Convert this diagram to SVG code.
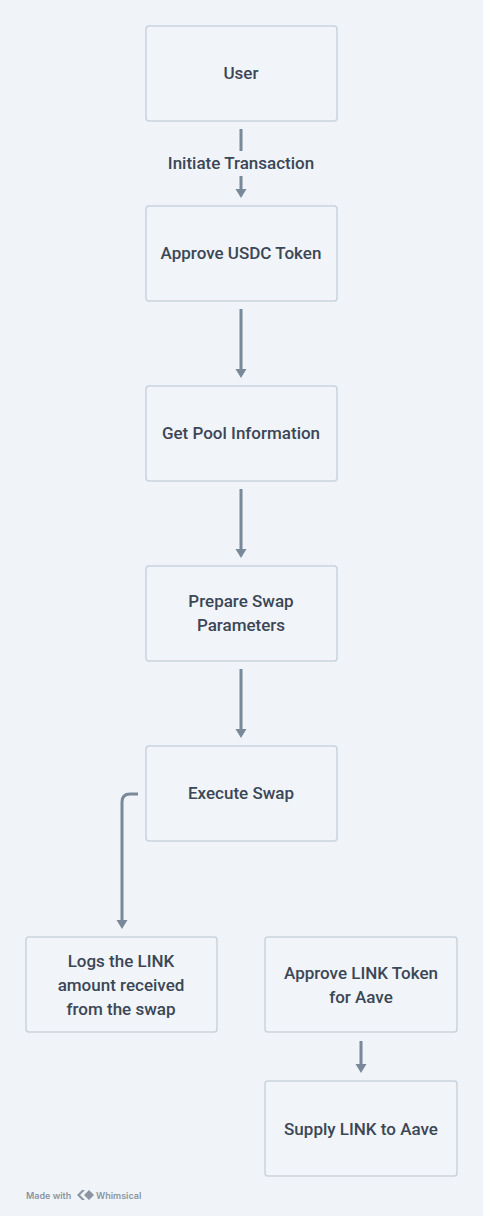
<svg xmlns="http://www.w3.org/2000/svg" width="483" height="1216" viewBox="0 0 483 1216">
<style>
.n rect{fill:#f1f4f8;stroke:#c9d3dd;stroke-width:1.5}
.t{font-family:Roboto,"Noto Sans",sans-serif;font-size:17px;font-weight:500;fill:#3b4756;text-anchor:middle}
.c{fill:none;stroke:#798999;stroke-width:3;stroke-linecap:butt}
</style>
<defs>
<marker id="ah" viewBox="0 0 9 11" refX="0" refY="5.5" markerWidth="3" markerHeight="3.67" markerUnits="strokeWidth" orient="auto">
<path d="M0,0 L9,5.5 L0,11 z" fill="#798999"/>
</marker>
</defs>
<rect width="483" height="1216" fill="#f0f4f8"/>
<g id="connectors">
<line class="c" x1="241" y1="129" x2="241" y2="151"/>
<line class="c" x1="241" y1="176" x2="241" y2="189" marker-end="url(#ah)"/>
<line class="c" x1="241" y1="309" x2="241" y2="369" marker-end="url(#ah)"/>
<line class="c" x1="241" y1="489" x2="241" y2="549" marker-end="url(#ah)"/>
<line class="c" x1="241" y1="669" x2="241" y2="729" marker-end="url(#ah)"/>
<path class="c" d="M138,794 L130,794 Q122,794 122,802 L122,920" marker-end="url(#ah)"/>
<line class="c" x1="361" y1="1041" x2="361" y2="1064" marker-end="url(#ah)"/>
<text class="t" x="241" y="169">Initiate Transaction</text>
</g>
<g id="user" class="n"><rect x="146" y="26" width="191" height="95" rx="3"/><text class="t" x="241" y="79">User</text></g>
<g id="approve-usdc" class="n"><rect x="146" y="206" width="191" height="95" rx="3"/><text class="t" x="241" y="259">Approve USDC Token</text></g>
<g id="get-pool" class="n"><rect x="146" y="386" width="191" height="95" rx="3"/><text class="t" x="241" y="439">Get Pool Information</text></g>
<g id="prepare-swap" class="n"><rect x="146" y="566" width="191" height="95" rx="3"/><text class="t" x="241" y="607">Prepare Swap</text><text class="t" x="241" y="631">Parameters</text></g>
<g id="execute-swap" class="n"><rect x="146" y="746" width="191" height="95" rx="3"/><text class="t" x="241" y="799">Execute Swap</text></g>
<g id="logs" class="n"><rect x="26" y="937" width="191" height="95" rx="3"/><text class="t" x="121" y="967">Logs the LINK</text><text class="t" x="121" y="991">amount received</text><text class="t" x="121" y="1015">from the swap</text></g>
<g id="approve-link" class="n"><rect x="265" y="937" width="192" height="95" rx="3"/><text class="t" x="361" y="979">Approve LINK Token</text><text class="t" x="361" y="1003">for Aave</text></g>
<g id="supply-link" class="n"><rect x="265" y="1081" width="192" height="95" rx="3"/><text class="t" x="361" y="1135">Supply LINK to Aave</text></g>
<g id="footer">
<text x="26" y="1199" font-family="Inter,'Liberation Sans',sans-serif" font-size="9" font-weight="600" fill="#8a95a1">Made with</text>
<path d="M77,1195 L82,1190 L85,1190 L80,1195 L85,1200 L82,1200 z M84,1195 L89,1190 L94,1195 L89,1200 z" fill="#8a95a1"/>
<text x="96" y="1199" font-family="Inter,'Liberation Sans',sans-serif" font-size="9" font-weight="600" fill="#8a95a1">Whimsical</text>
</g>
</svg>
